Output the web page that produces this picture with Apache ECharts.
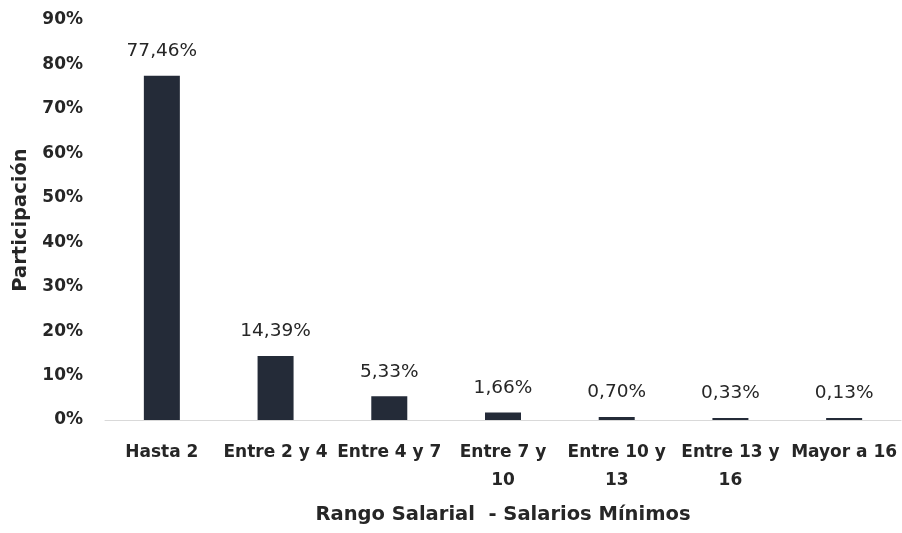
<!DOCTYPE html>
<html>
<head>
<meta charset="utf-8">
<script src="https://cdn.jsdelivr.net/npm/echarts@6/dist/echarts.min.js"></script>
<style>html,body{margin:0;padding:0;background:#fff}#c{width:902px;height:533px}</style>
</head>
<body>
<div id="c"></div>
<script>
var categories = ['Hasta 2', 'Entre 2 y 4', 'Entre 4 y 7', 'Entre 7 y 10', 'Entre 10 y 13', 'Entre 13 y 16', 'Mayor a 16'];
var categoryLabels = ['Hasta 2', 'Entre 2 y 4', 'Entre 4 y 7', 'Entre 7 y\n10', 'Entre 10 y\n13', 'Entre 13 y\n16', 'Mayor a 16'];
var values = [77.46, 14.39, 5.33, 1.66, 0.70, 0.33, 0.13];
var yTicks = [0, 10, 20, 30, 40, 50, 60, 70, 80, 90];
var xTitle = 'Rango Salarial  - Salarios Mínimos';
var yTitle = 'Participación';

var font = 'DejaVu Sans';
var txt = '#262626';
var chart = echarts.init(document.getElementById('c'), null, {renderer: 'canvas'});
chart.setOption({
  animation: false,
  backgroundColor: '#ffffff',
  grid: {left: 105, right: 1, top: 20, bottom: 113, containLabel: false},
  xAxis: {
    type: 'category',
    data: categories,
    name: xTitle,
    nameLocation: 'middle',
    nameGap: 85,
    nameTextStyle: {fontFamily: font, fontWeight: 'bold', fontSize: 19.5, color: txt},
    axisLine: {lineStyle: {color: '#d9d9d9', width: 1}},
    axisTick: {show: false},
    axisLabel: {
      interval: 0,
      margin: 19,
      fontFamily: font, fontWeight: 'bold', fontSize: 17, color: txt, lineHeight: 28,
      formatter: function (v) { return categoryLabels[categories.indexOf(v)]; }
    }
  },
  yAxis: {
    type: 'value',
    min: yTicks[0],
    max: yTicks[yTicks.length - 1],
    interval: 10,
    name: yTitle,
    nameLocation: 'middle',
    nameGap: 74,
    nameTextStyle: {fontFamily: font, fontWeight: 'bold', fontSize: 19.5, color: txt},
    axisLine: {show: false},
    axisTick: {show: false},
    splitLine: {show: false},
    axisLabel: {
      margin: 22,
      fontFamily: font, fontWeight: 'bold', fontSize: 17, color: txt,
      formatter: function (v) { return v + '%'; }
    }
  },
  series: [{
    type: 'bar',
    data: values,
    barWidth: 36,
    barMinHeight: 2,
    itemStyle: {color: '#242b38'},
    label: {
      show: true,
      position: 'top',
      distance: 15,
      fontFamily: font, fontSize: 18.5, color: txt,
      formatter: function (p) { return p.value.toFixed(2).replace('.', ',') + '%'; }
    }
  }]
});
</script>
</body>
</html>
